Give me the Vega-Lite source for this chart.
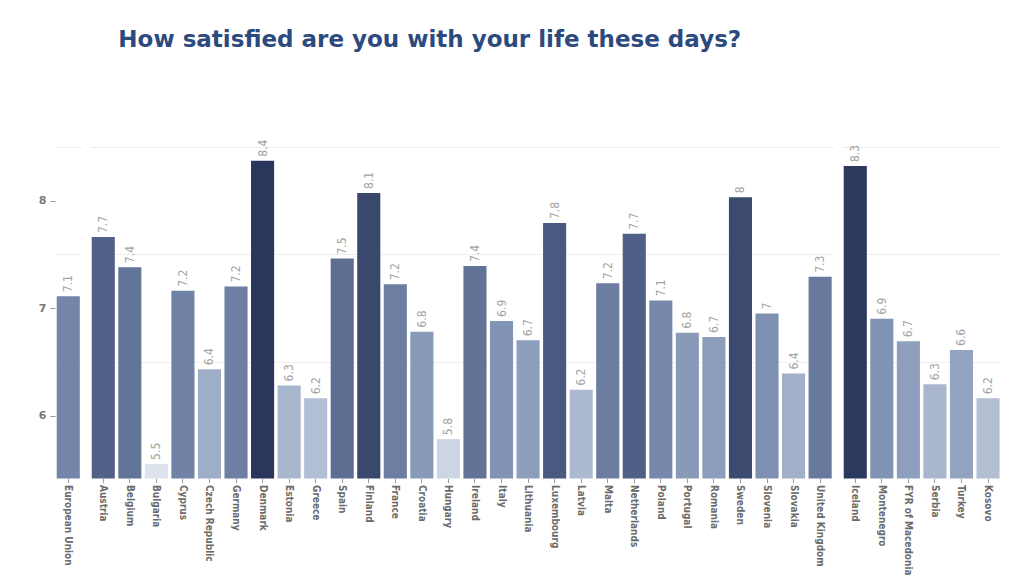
{
  "$schema": "https://vega.github.io/schema/vega-lite/v6.json",
  "background": "white",
  "padding": {"left": 38, "top": 29, "right": 5, "bottom": 0},
  "title": {
    "text": "How satisfied are you with your life these days?",
    "anchor": "start",
    "frame": "bounds",
    "dx": 80,
    "offset": 84,
    "font": "DejaVu Sans",
    "fontSize": 23,
    "fontWeight": "bold",
    "color": "#2d4a7e"
  },
  "data": {
    "values": [
      {"country": "European Union", "group": "A", "value": 7.11},
      {"country": "Austria", "group": "B", "value": 7.66},
      {"country": "Belgium", "group": "B", "value": 7.38},
      {"country": "Bulgaria", "group": "B", "value": 5.55},
      {"country": "Cyprus", "group": "B", "value": 7.16},
      {"country": "Czech Republic", "group": "B", "value": 6.43},
      {"country": "Germany", "group": "B", "value": 7.2},
      {"country": "Denmark", "group": "B", "value": 8.37},
      {"country": "Estonia", "group": "B", "value": 6.28},
      {"country": "Greece", "group": "B", "value": 6.16},
      {"country": "Spain", "group": "B", "value": 7.46},
      {"country": "Finland", "group": "B", "value": 8.07},
      {"country": "France", "group": "B", "value": 7.22},
      {"country": "Croatia", "group": "B", "value": 6.78},
      {"country": "Hungary", "group": "B", "value": 5.78},
      {"country": "Ireland", "group": "B", "value": 7.39},
      {"country": "Italy", "group": "B", "value": 6.88},
      {"country": "Lithuania", "group": "B", "value": 6.7},
      {"country": "Luxembourg", "group": "B", "value": 7.79},
      {"country": "Latvia", "group": "B", "value": 6.24},
      {"country": "Malta", "group": "B", "value": 7.23},
      {"country": "Netherlands", "group": "B", "value": 7.69},
      {"country": "Poland", "group": "B", "value": 7.07},
      {"country": "Portugal", "group": "B", "value": 6.77},
      {"country": "Romania", "group": "B", "value": 6.73},
      {"country": "Sweden", "group": "B", "value": 8.03},
      {"country": "Slovenia", "group": "B", "value": 6.95},
      {"country": "Slovakia", "group": "B", "value": 6.39},
      {"country": "United Kingdom", "group": "B", "value": 7.29},
      {"country": "Iceland", "group": "C", "value": 8.32},
      {"country": "Montenegro", "group": "C", "value": 6.9},
      {"country": "FYR of Macedonia", "group": "C", "value": 6.69},
      {"country": "Serbia", "group": "C", "value": 6.29},
      {"country": "Turkey", "group": "C", "value": 6.61},
      {"country": "Kosovo", "group": "C", "value": 6.16}
    ]
  },
  "facet": {
    "column": {
      "field": "group",
      "type": "nominal",
      "sort": ["A", "B", "C"],
      "header": {"labels": false, "title": null, "labelPadding": 0, "titlePadding": 0}
    }
  },
  "spacing": {"column": 8},
  "resolve": {"scale": {"x": "independent"}},
  "spec": {
    "width": {"step": 26.55},
    "height": 342.5,
    "encoding": {
      "x": {
        "field": "country",
        "type": "nominal",
        "sort": null,
        "title": null,
        "scale": {"paddingInner": 0.13, "paddingOuter": 0.065},
        "axis": {
          "labelAngle": 90,
          "labelFont": "DejaVu Sans Condensed, DejaVu Sans",
          "labelFontSize": 10,
          "labelFontWeight": "bold",
          "labelColor": "#6a6a6a",
          "labelPadding": 2,
          "tickSize": 4,
          "tickColor": "#999999",
          "domain": false,
          "grid": false
        }
      },
      "y": {
        "field": "value",
        "type": "quantitative",
        "title": null,
        "scale": {"domain": [5.414, 8.6], "nice": false, "zero": false, "clamp": true},
        "axis": {
          "values": [6, 6.5, 7, 7.5, 8, 8.5],
          "labelExpr": "datum.value % 1 == 0 ? format(datum.value, 'd') : ''",
          "labelFont": "DejaVu Sans",
          "labelFontSize": 11,
          "labelFontWeight": "bold",
          "labelColor": "#777777",
          "labelPadding": 4,
          "tickSize": 5,
          "tickColor": "#999999",
          "tickOpacity": {"condition": {"test": "datum.value % 1 == 0", "value": 1}, "value": 0},
          "domain": false,
          "grid": true,
          "gridColor": "#eeeeee",
          "gridOpacity": {"condition": {"test": "datum.value % 1 == 0", "value": 0}, "value": 1}
        }
      }
    },
    "layer": [
      {
        "mark": {"type": "bar"},
        "encoding": {
          "color": {
            "field": "value",
            "type": "quantitative",
            "scale": {"domain": [5.5, 7.0, 8.4], "range": ["#e0e6ef", "#7a8db0", "#28345a"]},
            "legend": null
          }
        }
      },
      {
        "mark": {
          "type": "text",
          "angle": 270,
          "align": "left",
          "baseline": "middle",
          "dx": 4,
          "font": "DejaVu Sans Condensed, DejaVu Sans",
          "fontSize": 12,
          "color": "#a3a3a3"
        },
        "encoding": {
          "text": {"field": "value", "type": "quantitative", "format": ".1~f"}
        }
      }
    ]
  },
  "config": {
    "view": {"stroke": null}
  }
}
